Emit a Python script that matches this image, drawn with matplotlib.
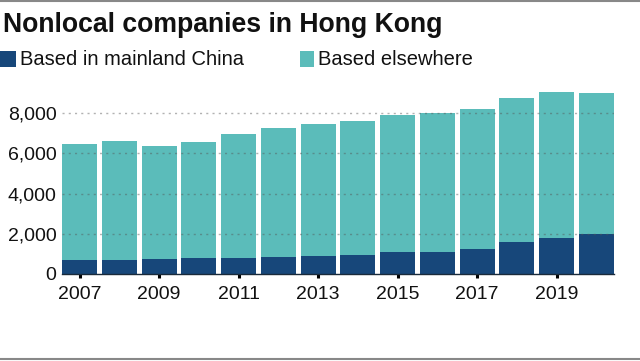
import matplotlib
matplotlib.use("Agg")
import matplotlib.pyplot as plt
from matplotlib.lines import Line2D
from matplotlib.patches import Rectangle

years = list(range(2007, 2021))
mainland = [692, 692, 726, 776, 776, 826, 890, 940, 1074, 1106, 1239, 1587, 1786, 1970]
total = [6448, 6612, 6378, 6562, 6945, 7244, 7443, 7592, 7920, 7990, 8219, 8751, 9035, 9015]
elsewhere = [t - m for t, m in zip(total, mainland)]
tick_years = [2007, 2009, 2011, 2013, 2015, 2017, 2019]
y_ticks = [0, 2000, 4000, 6000, 8000]

dark = "#17477a"
teal = "#5bbcba"

plt.rcParams['font.family'] = ['Liberation Sans', 'DejaVu Sans']

fig = plt.figure(figsize=(6.4, 3.61), dpi=100)
ax = fig.add_axes([0.097, 0.241, 0.862, 0.512])

x = list(range(len(years)))
w = 0.88
ax.bar(x, mainland, width=w, color=dark, zorder=2)
ax.bar(x, elsewhere, width=w, bottom=mainland, color=teal, zorder=2)

ax.set_xlim(-w / 2, len(years) - 1 + w / 2)
ax.set_ylim(0, 9200)
ax.set_yticks(y_ticks)
ax.set_yticklabels([f"{v:,}" for v in y_ticks])
ax.set_xticks([years.index(y) for y in tick_years])
ax.set_xticklabels([str(y) for y in tick_years])

for v in y_ticks[1:]:
    ax.axhline(v, color="#555555", alpha=0.45, linestyle=(0, (1.5, 3)), linewidth=1.0, zorder=3)

for s in ["top", "right", "left"]:
    ax.spines[s].set_visible(False)
ax.spines["bottom"].set_color("#1a2a3a")
ax.spines["bottom"].set_linewidth(1.0)
ax.spines["bottom"].set_zorder(4)

ax.tick_params(axis="y", length=0, pad=4, labelsize=14, labelcolor="#111111")
ax.tick_params(axis="x", length=3, width=2.2, color="#000000", pad=6, labelsize=14, labelcolor="#111111")

fig.text(0.004, 0.93, "Nonlocal companies in Hong Kong", fontsize=19.2, fontweight="bold",
         ha="left", va="center", color="#111111")

# legend
fig.patches.append(Rectangle((0.0, 0.815), 0.025, 0.044, transform=fig.transFigure,
                             facecolor=dark, edgecolor="none"))
fig.text(0.031, 0.836, "Based in mainland China", fontsize=14.5, ha="left", va="center", color="#111111")
fig.patches.append(Rectangle((0.469, 0.815), 0.021, 0.044, transform=fig.transFigure,
                             facecolor=teal, edgecolor="none"))
fig.text(0.497, 0.836, "Based elsewhere", fontsize=14.5, ha="left", va="center", color="#111111")

# top and bottom border lines
fig.add_artist(Line2D([0, 1], [0.998, 0.998], transform=fig.transFigure, color="#888888", linewidth=1.5))
fig.add_artist(Line2D([0, 1], [0.006, 0.006], transform=fig.transFigure, color="#888888", linewidth=1.5))

fig.savefig("out.png", dpi=100, facecolor="white")
